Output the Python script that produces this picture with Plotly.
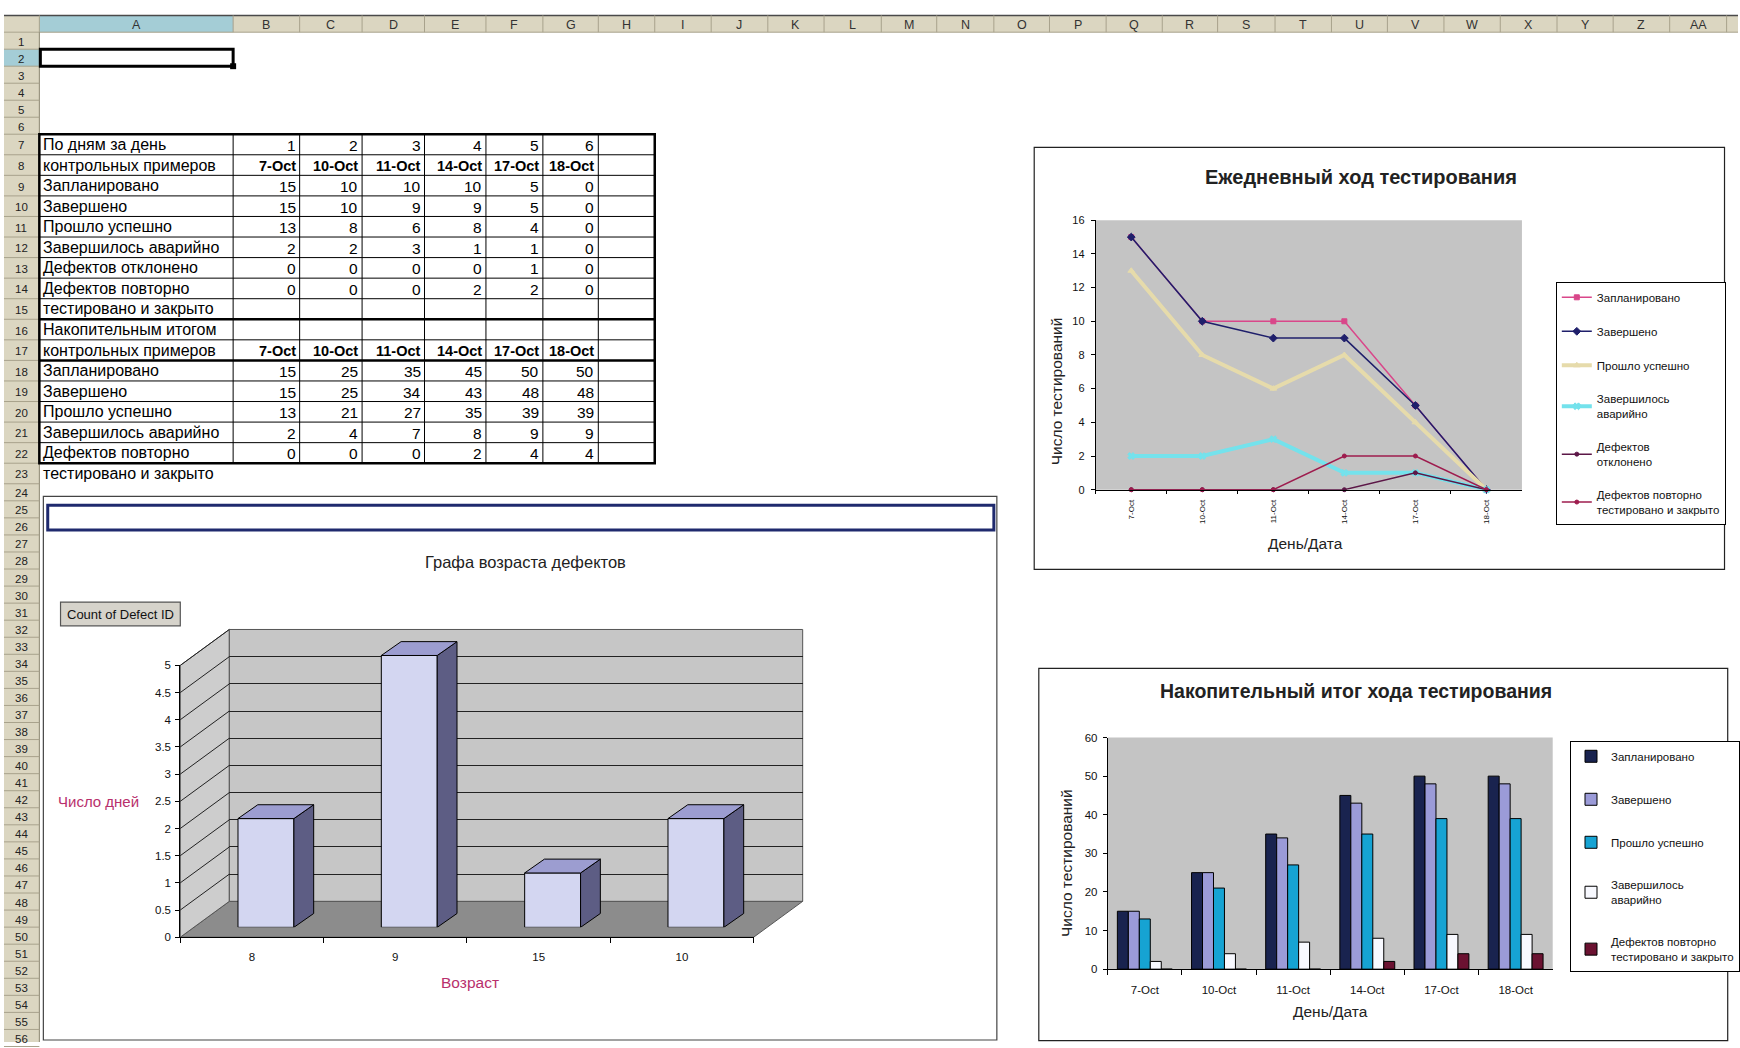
import plotly.graph_objects as go

W, H = 1740, 1048
FONT = "Liberation Sans, Arial, sans-serif"

# ---------------- worksheet data ----------------
day_numbers = [1, 2, 3, 4, 5, 6]
dates = ["7-Oct", "10-Oct", "11-Oct", "14-Oct", "17-Oct", "18-Oct"]

daily_planned = [15, 10, 10, 10, 5, 0]
daily_completed = [15, 10, 9, 9, 5, 0]
daily_passed = [13, 8, 6, 8, 4, 0]
daily_failed = [2, 2, 3, 1, 1, 0]
daily_rejected = [0, 0, 0, 0, 1, 0]
daily_retested = [0, 0, 0, 2, 2, 0]

cum_planned = [15, 25, 35, 45, 50, 50]
cum_completed = [15, 25, 34, 43, 48, 48]
cum_passed = [13, 21, 27, 35, 39, 39]
cum_failed = [2, 4, 7, 8, 9, 9]
cum_retested = [0, 0, 0, 2, 4, 4]

age_labels = ["8", "9", "15", "10"]
age_counts = [2, 5, 1, 2]

col_letters = ["A", "B", "C", "D", "E", "F", "G", "H", "I", "J", "K", "L", "M", "N",
               "O", "P", "Q", "R", "S", "T", "U", "V", "W", "X", "Y", "Z", "AA"]

# ---------------- sheet geometry (pixels) ----------------
col_edges = [39.4, 233.4, 300, 362.5, 425, 486.5, 543.5, 599, 655.5, 712, 768.7, 825,
             882.3, 937.8, 995, 1050.7, 1107.4, 1163.6, 1219, 1276.5, 1333, 1389,
             1445.6, 1502, 1558.8, 1615, 1671.6, 1728.6]
HDR_TOP, HDR_BOT = 9.5, 26.5
row_top = {}
_y = HDR_BOT
for r in range(1, 57):
    row_top[r] = _y
    _y += 17.2 if r <= 6 else (20.8 if r <= 23 else 17.25)
row_top[57] = _y


def row_mid(r):
    return (row_top[r] + row_top[r + 1]) / 2


def px(x):
    return x / W


def py(y):
    return 1 - y / H


shapes = []
annotations = []


def line(x0, y0, x1, y1, color="#000", width=1, layer="above"):
    shapes.append(dict(type="line", xref="paper", yref="paper", x0=px(x0), y0=py(y0),
                       x1=px(x1), y1=py(y1), line=dict(color=color, width=width), layer=layer))


def rect(x0, y0, x1, y1, fill=None, color=None, width=1, layer="below"):
    shapes.append(dict(type="rect", xref="paper", yref="paper", x0=px(x0), y0=py(y0),
                       x1=px(x1), y1=py(y1), fillcolor=fill or "rgba(0,0,0,0)",
                       line=dict(color=color or "rgba(0,0,0,0)", width=width if color else 0),
                       layer=layer))


def poly(points, fill, color="#000", width=1, layer="below"):
    path = "M " + " L ".join(f"{px(x):.5f},{py(y):.5f}" for x, y in points) + " Z"
    shapes.append(dict(type="path", xref="paper", yref="paper", path=path, fillcolor=fill,
                       line=dict(color=color, width=width), layer=layer))


def txt(x, y, s, size=15, color="#000", xanchor="left", bold=False, angle=0, family=FONT):
    if bold:
        s = f"<b>{s}</b>"
    annotations.append(dict(x=px(x), y=py(y), xref="paper", yref="paper", text=s,
                            showarrow=False, xanchor=xanchor, yanchor="middle",
                            font=dict(size=size, color=color, family=family),
                            textangle=angle, borderpad=0))


# ---------------- column / row headers ----------------
HDR_FILL = "#dbd6c1"
SEL_FILL = "#a4cdd6"
HDR_LINE = "#a8a28c"
rect(4, HDR_TOP, W, HDR_BOT, fill=HDR_FILL)
rect(col_edges[0], HDR_TOP, col_edges[1], HDR_BOT, fill=SEL_FILL)
rect(4, HDR_BOT, col_edges[0], H, fill=HDR_FILL)
rect(4, row_top[2], col_edges[0], row_top[3], fill=SEL_FILL)
line(4, HDR_TOP, W, HDR_TOP, "#4a4a4a", 1.5)
line(4, HDR_BOT, W, HDR_BOT, HDR_LINE, 1)
for xe in col_edges:
    line(xe, HDR_TOP, xe, HDR_BOT, HDR_LINE, 1)
for i, letter in enumerate(col_letters):
    txt((col_edges[i] + col_edges[i + 1]) / 2, (HDR_TOP + HDR_BOT) / 2 + 1, letter,
        size=12.5, color="#333", xanchor="center")
line(col_edges[0], HDR_BOT, col_edges[0], H, "#8c8670", 1)
for r in range(1, 57):
    line(4, row_top[r + 1], col_edges[0], row_top[r + 1], HDR_LINE, 1)
    txt(21.5, row_mid(r) + 1, str(r), size=11.5, color="#222", xanchor="center")

# active cell A2
rect(col_edges[0] + 1, row_top[2], col_edges[1], row_top[3], color="#000", width=3, layer="above")
rect(col_edges[1] - 3, row_top[3] - 3, col_edges[1] + 3, row_top[3] + 3, fill="#000", layer="above")

# ---------------- data table ----------------
daily_rows = [("Запланировано", daily_planned), ("Завершено", daily_completed),
              ("Прошло успешно", daily_passed), ("Завершилось аварийно", daily_failed),
              ("Дефектов отклонено", daily_rejected), ("Дефектов повторно", daily_retested)]
cum_rows = [("Запланировано", cum_planned), ("Завершено", cum_completed),
            ("Прошло успешно", cum_passed), ("Завершилось аварийно", cum_failed),
            ("Дефектов повторно", cum_retested)]

TXT_X = col_edges[0] + 3
TFS = 16
NFS = 15.5
DFS = 14.5


def put_values(r, values, bold=False):
    for j, v in enumerate(values):
        txt(col_edges[j + 2] - 3, row_mid(r) + 1, str(v), size=DFS if bold else NFS,
            xanchor="right", bold=bold)


txt(TXT_X, row_mid(7), "По дням за день", TFS)
put_values(7, day_numbers)
txt(TXT_X, row_mid(8), "контрольных примеров", TFS)
put_values(8, dates, bold=True)
for k, (name, vals) in enumerate(daily_rows):
    txt(TXT_X, row_mid(9 + k), name, TFS)
    put_values(9 + k, vals)
txt(TXT_X, row_mid(15), "тестировано и закрыто", TFS)
txt(TXT_X, row_mid(16), "Накопительным итогом", TFS)
txt(TXT_X, row_mid(17), "контрольных примеров", TFS)
put_values(17, dates, bold=True)
for k, (name, vals) in enumerate(cum_rows):
    txt(TXT_X, row_mid(18 + k), name, TFS)
    put_values(18 + k, vals)
txt(TXT_X, row_mid(23), "тестировано и закрыто", TFS)

T_LEFT, T_RIGHT = col_edges[0], col_edges[8]
T_TOP, T_BOT = row_top[7], row_top[23]
for r in range(8, 23):
    thick = r in (16, 18)
    line(T_LEFT, row_top[r], T_RIGHT, row_top[r], "#000", 2.5 if thick else 1)
for xe in col_edges[1:8]:
    line(xe, T_TOP, xe, T_BOT, "#000", 1)
rect(T_LEFT, T_TOP, T_RIGHT, T_BOT, color="#000", width=2.5, layer="above")

# ---------------- chart 1: defect age (3-D columns) ----------------
rect(43.4, 496, 998, 1046, fill="white", color="#444", width=1.2)
rect(47.8, 505, 995, 530, color="#1f2a6e", width=3, layer="above")
txt(526, 562, "Графа возраста дефектов", size=16.5, color="#222", xanchor="center")
rect(60.6, 603, 180.5, 627, fill="#d6d3cb", color="#555", width=1.2, layer="above")
txt(120.5, 615.5, "Count of Defect ID", size=13, color="#111", xanchor="center")

FX0, FX1, FY0, FYTOP = 180.5, 754.5, 942, 667      # front plane
DX, DY = 49.1, 36.3                                # depth of the floor/walls
poly([(FX0, FY0), (FX1, FY0), (FX1 + DX, FY0 - DY), (FX0 + DX, FY0 - DY)], "#8c8c8c", "#555", 1)
poly([(FX0, FY0), (FX0, FYTOP), (FX0 + DX, FYTOP - DY), (FX0 + DX, FY0 - DY)], "#cdcdcd", "#555", 1)
rect(FX0 + DX, FYTOP - DY, FX1 + DX, FY0 - DY, fill="#c6c6c6", color="#555", width=1)
for k in range(1, 11):
    yy = FY0 - k * (FY0 - FYTOP) / 10
    line(FX0, yy, FX0 + DX, yy - DY, "#222", 1, layer="below")
txt(99, 805, "Число дней", size=15, color="#b8306c", xanchor="center")
txt(470.7, 988, "Возраст", size=15.5, color="#b8306c", xanchor="center")

BAR_W = 0.39
SIDE_DX = 0.138   # category units
SIDE_DY = 0.2545  # value units

# ---------------- chart 2: daily progress (lines) ----------------
rect(1035.4, 143, 1726.5, 570, fill="white", color="#222", width=1.2)
rect(1097, 216.7, 1523.7, 489.3, fill="#c4c4c4")
txt(1363, 172.5, "Ежедневный ход тестирования", size=20, color="#222", xanchor="center", bold=True)
txt(1307, 544, "День/Дата", size=15.5, color="#222", xanchor="center")
txt(1058, 390, "Число тестирований", size=15.5, color="#222", xanchor="center", angle=-90)

# ---------------- chart 3: cumulative progress (columns) ----------------
rect(1040, 670, 1729.7, 1046.7, fill="white", color="#222", width=1.2)
rect(1109, 740, 1554.5, 974.3, fill="#c4c4c4")
txt(1358, 693, "Накопительный итог хода тестирования", size=19.5, color="#222", xanchor="center", bold=True)
txt(1332.5, 1017, "День/Дата", size=15.5, color="#222", xanchor="center")
txt(1068.5, 866.7, "Число тестирований", size=15.5, color="#222", xanchor="center", angle=-90)

fig = go.Figure()

# daily line series
line_series = [
    ("Запланировано", daily_planned, "#d9478a", 1.5, "square", 5),
    ("Завершено", daily_completed, "#1f1f6b", 1.5, "diamond", 6),
    ("Прошло успешно", daily_passed, "#e6dbab", 4, "triangle-up", 6),
    ("Завершилось<br>аварийно", daily_failed, "#74e2ec", 4, "x", 6),
    ("Дефектов<br>отклонено", daily_rejected, "#5c1747", 1.5, "circle", 4),
    ("Дефектов повторно<br>тестировано и закрыто", daily_retested, "#9e1c4e", 1.5, "circle", 4),
]
for i, (name, vals, color, lw, sym, ms) in enumerate(line_series):
    fig.add_trace(go.Scatter(
        x=dates, y=vals, name=name, mode="lines+markers", xaxis="x", yaxis="y",
        line=dict(color=color, width=lw), marker=dict(symbol=sym, size=ms, color=color,
                                                      line=dict(color=color, width=1)),
        legend="legend", legendgroup=f"d{i}", cliponaxis=False))

# cumulative column series
bar_series = [
    ("Запланировано", cum_planned, "#19234f"),
    ("Завершено", cum_completed, "#9b9bd8"),
    ("Прошло успешно", cum_passed, "#16a3d3"),
    ("Завершилось<br>аварийно", cum_failed, "#f8f9ff"),
    ("Дефектов повторно<br>тестировано и закрыто", cum_retested, "#6b1231"),
]
for i, (name, vals, color) in enumerate(bar_series):
    fig.add_trace(go.Bar(
        x=dates, y=vals, name=name, xaxis="x2", yaxis="y2",
        marker=dict(color=color, line=dict(color="#000", width=1)),
        legend="legend2", legendgroup=f"c{i}"))

# back wall of the 3-D chart (grid only) and front axes
fig.add_trace(go.Scatter(x=[0], y=[0], xaxis="x3", yaxis="y3", mode="markers",
                         marker=dict(opacity=0), showlegend=False, hoverinfo="skip"))
fig.add_trace(go.Scatter(x=age_labels, y=[0] * len(age_labels), xaxis="x4", yaxis="y4",
                         mode="markers", marker=dict(opacity=0), showlegend=False,
                         hoverinfo="skip"))

# 3-D columns: front faces as bars, tops and sides as filled outlines
pos = list(range(len(age_counts)))
for i, v in zip(pos, age_counts):
    l, r = i - BAR_W / 2, i + BAR_W / 2
    fig.add_trace(go.Scatter(
        x=[r, r + SIDE_DX, r + SIDE_DX, r, r], y=[0, SIDE_DY, v + SIDE_DY, v, 0],
        xaxis="x5", yaxis="y5", mode="lines", fill="toself", fillcolor="#5d5d84",
        line=dict(color="#000", width=1), showlegend=False, hoverinfo="skip"))
    fig.add_trace(go.Scatter(
        x=[l, r, r + SIDE_DX, l + SIDE_DX, l], y=[v, v, v + SIDE_DY, v + SIDE_DY, v],
        xaxis="x5", yaxis="y5", mode="lines", fill="toself", fillcolor="#9c9dd0",
        line=dict(color="#000", width=1), showlegend=False, hoverinfo="skip"))
fig.add_trace(go.Bar(x=pos, y=age_counts, width=BAR_W, xaxis="x5", yaxis="y5",
                     marker=dict(color="#d3d6f1", line=dict(color="#000", width=1)),
                     showlegend=False))

axis_common = dict(showgrid=False, zeroline=False, fixedrange=True, linecolor="#000",
                   linewidth=1, tickcolor="#000", tickfont=dict(family=FONT, color="#111"))

fig.update_layout(
    width=W, height=H, margin=dict(l=0, r=0, t=0, b=0),
    paper_bgcolor="white", plot_bgcolor="rgba(0,0,0,0)",
    barmode="group", bargap=0.26, bargroupgap=0,
    font=dict(family=FONT, color="#111"),
    shapes=shapes, annotations=annotations,
    xaxis=dict(axis_common, domain=[px(1097), px(1523.7)], anchor="y", type="category",
               categoryorder="array", categoryarray=dates, range=[-0.5, 5.5],
               showline=True, ticks="outside", ticklen=3, tickson="boundaries",
               tickangle=-90, ticklabelstandoff=6,
               tickfont=dict(size=8, family=FONT, color="#111")),
    yaxis=dict(axis_common, domain=[py(489.3), py(216.7)], anchor="x", range=[0, 16],
               dtick=2, showline=True, ticks="outside", ticklen=4, ticklabelstandoff=4,
               tickfont=dict(size=11, family=FONT, color="#111")),
    xaxis2=dict(axis_common, domain=[px(1109), px(1554.5)], anchor="y2", type="category",
                categoryorder="array", categoryarray=dates, range=[-0.5, 5.5],
                showline=True, ticks="outside", ticklen=5, tickson="boundaries",
                ticklabelstandoff=10, tickfont=dict(size=11.5, family=FONT, color="#111")),
    yaxis2=dict(axis_common, domain=[py(974.3), py(740)], anchor="x2", range=[0, 60],
                dtick=10, showline=True, ticks="outside", ticklen=4, ticklabelstandoff=3,
                tickfont=dict(size=11.5, family=FONT, color="#111")),
    xaxis3=dict(domain=[px(FX0 + DX), px(FX1 + DX)], anchor="y3", range=[0, 1],
                showgrid=False, zeroline=False, showticklabels=False, showline=False,
                ticks="", fixedrange=True),
    yaxis3=dict(domain=[py(FY0 - DY), py(FYTOP - DY)], anchor="x3", range=[0, 5], dtick=0.5,
                showgrid=True, gridcolor="#222", gridwidth=1, zeroline=False,
                showticklabels=False, ticks="", showline=False, fixedrange=True),
    xaxis4=dict(axis_common, domain=[px(FX0), px(FX1)], anchor="y4", type="category",
                categoryorder="array", categoryarray=age_labels, range=[-0.5, 3.5],
                showline=True, ticks="outside", ticklen=5, tickson="boundaries",
                ticklabelstandoff=9, tickfont=dict(size=11.5, family=FONT, color="#111")),
    yaxis4=dict(axis_common, domain=[py(FY0), py(FYTOP)], anchor="x4", range=[0, 5],
                dtick=0.5, showline=True, ticks="outside", ticklen=4, ticklabelstandoff=2,
                tickfont=dict(size=11.5, family=FONT, color="#111")),
    xaxis5=dict(domain=[px(FX0 + 14), px(FX1 + 14)], anchor="y5", range=[-0.5, 3.5],
                visible=False, fixedrange=True),
    yaxis5=dict(domain=[py(932), py(932 - 5.4 * 55)], anchor="x5", range=[0, 5.4],
                visible=False, fixedrange=True),
    legend=dict(x=px(1557.6), y=py(279), xanchor="left", yanchor="top", bgcolor="white",
                bordercolor="#000", borderwidth=1, font=dict(size=11.5, family=FONT, color="#111"),
                tracegroupgap=15, itemwidth=30, traceorder="grouped"),
    legend2=dict(x=px(1572), y=py(743.3), xanchor="left", yanchor="top", bgcolor="white",
                 bordercolor="#000", borderwidth=1, font=dict(size=11.5, family=FONT, color="#111"),
                 tracegroupgap=24, itemwidth=30, traceorder="grouped"),
)

fig.write_html("out.html")
